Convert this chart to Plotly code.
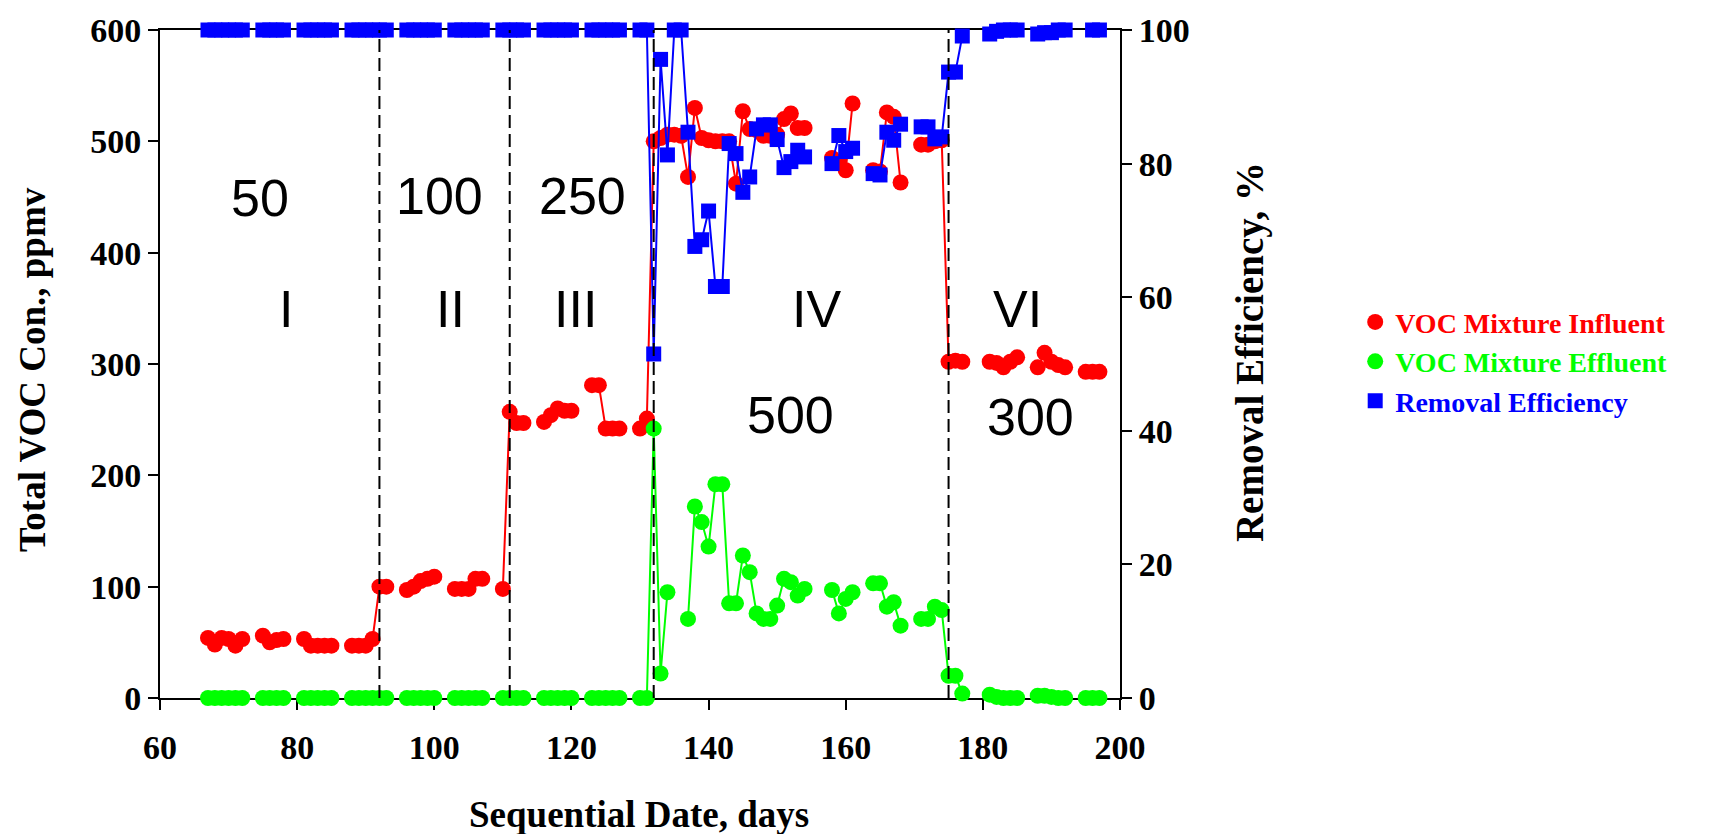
import plotly.graph_objects as go

# Sampling days (None rows break the connecting lines between sampling runs)
days = [
    67, 68, 69, 70, 71, 72, 73,
    75, 76, 77, 78, 79,
    81, 82, 83, 84, 85, 86,
    88, 89, 90, 91, 92, 93, 94,
    96, 97, 98, 99, 100, 101,
    103, 104, 105, 106, 107, 108,
    110, 111, 112, 113, 114,
    116, 117, 118, 119, 120, 121,
    123, 124, 125, 126, 127, 128,
    130, 131, 132, 133, 134, 135, 136, 137, 138, 139, 140, 141, 142,
    143, 144, 145, 146, 147, 148, 149, 150, 151, 152, 153, 154, 155,
    158, 159, 160, 161, 162,
    164, 165, 166, 167, 168, 169,
    171, 172, 173, 174, 175, 176, 177, 178,
    181, 182, 183, 184, 185, 186,
    188, 189, 190, 191, 192, 193,
    195, 196, 197,
]

influent = [
    54, 48, 54, 53, 47, 53, None,
    56, 50, 52, 53, None,
    53, 47, 47, 47, 47, None,
    47, 47, 47, 53, 100, 100, None,
    97, 100, 105, 107, 109, None,
    98, 98, 98, 107, 107, None,
    98, 257, 247, 247, None,
    248, 254, 260, 258, 258, None,
    281, 281, 242, 242, 242, None,
    242, 251, 500, 503, 506, 506, 505, 468, 530, 503, 501, 500, 500,
    500, 462, 527, 511, 510, 505, 505, 506, 520, 525, 512, 512, None,
    485, 481, 474, 534, None,
    474, 473, 526, 522, 463, None,
    497, 497, 500, 501, 302, 303, 302, None,
    302, 301, 297, 302, 306, None,
    297, 310, 302, 299, 297, None,
    293, 293, 293,
]

effluent = [
    0, 0, 0, 0, 0, 0, None,
    0, 0, 0, 0, None,
    0, 0, 0, 0, 0, None,
    0, 0, 0, 0, 0, 0, None,
    0, 0, 0, 0, 0, None,
    0, 0, 0, 0, 0, None,
    0, 0, 0, 0, None,
    0, 0, 0, 0, 0, None,
    0, 0, 0, 0, 0, None,
    0, 0, 242, 22, 95, None, None, 71, 172, 158, 136, 192, 192,
    85, 85, 128, 113, 76, 71, 71, 83, 107, 104, 92, 98, None,
    97, 76, 89, 95, None,
    103, 103, 82, 86, 65, None,
    71, 71, 82, 79, 20, 20, 4, None,
    3, 1, 0, 0, 0, None,
    2, 2, 1, 0, 0, None,
    0, 0, 0,
]

removal = [
    100, 100, 100, 100, 100, 100, None,
    100, 100, 100, 100, None,
    100, 100, 100, 100, 100, None,
    100, 100, 100, 100, 100, 100, None,
    100, 100, 100, 100, 100, None,
    100, 100, 100, 100, 100, None,
    100, 100, 100, 100, None,
    100, 100, 100, 100, 100, None,
    100, 100, 100, 100, 100, None,
    100, 100, 51.5, 95.6, 81.3, 100, 100, 84.7, 67.6, 68.6, 72.9, 61.6, 61.6,
    83.0, 81.5, 75.7, 78.0, 85.2, 85.8, 85.8, 83.6, 79.4, 80.3, 82.0, 81.0, None,
    80.0, 84.2, 81.8, 82.3, None,
    78.5, 78.3, 84.7, 83.5, 85.9, None,
    85.5, 85.5, 83.7, 84.0, 93.7, 93.7, 99.1, None,
    99.4, 99.8, 100, 100, 100, None,
    99.4, 99.6, 99.6, 100, 100, None,
    None, 100, 100,
]

# Phase boundaries (days) and in-plot phase / concentration labels
phase_bounds = [92, 111, 132, 175]
conc_labels = ["50", "100", "250", "500", "300"]
conc_x = [74.6, 100.7, 121.6, 152.0, 187.0]
conc_y = [449, 451, 451, 254, 252]
phase_labels = ["I", "II", "III", "IV", "VI"]
phase_x = [78.4, 102.4, 120.6, 155.7, 185.1]
phase_y = [349, 349, 349, 349, 349]

RED, GREEN, BLUE = "#FF0000", "#00FF00", "#0000FF"
SERIF = "Liberation Serif"
SANS = "Liberation Sans"

fig = go.Figure()

fig.add_trace(go.Scatter(
    x=days, y=influent, mode="lines+markers", showlegend=False,
    line=dict(color=RED, width=2), cliponaxis=False,
    marker=dict(symbol="circle", size=16, color=RED),
))
fig.add_trace(go.Scatter(
    x=days, y=effluent, mode="lines+markers", showlegend=False,
    line=dict(color=GREEN, width=2), cliponaxis=False,
    marker=dict(symbol="circle", size=16, color=GREEN),
))
fig.add_trace(go.Scatter(
    x=days, y=removal, mode="lines+markers", showlegend=False, yaxis="y2",
    line=dict(color=BLUE, width=2), cliponaxis=False,
    marker=dict(symbol="square", size=15, color=BLUE),
))

# Legend entries (marker only)
for name, color, sym, sz in [
    ("VOC Mixture Influent", RED, "circle", 16),
    ("VOC Mixture Effluent", GREEN, "circle", 16),
    ("Removal Efficiency", BLUE, "square", 15),
]:
    fig.add_trace(go.Scatter(
        x=[None], y=[None], mode="markers",
        name=f"<span style='color:{color}'>{name}</span>",
        marker=dict(symbol=sym, size=sz, color=color),
    ))

shapes = [
    dict(type="line", xref="x", yref="paper", x0=b, x1=b, y0=0, y1=1,
         line=dict(color="black", width=2, dash="13px,6px"), layer="above")
    for b in phase_bounds
]

annotations = []
for t, x, y in zip(conc_labels, conc_x, conc_y):
    annotations.append(dict(x=x, y=y, xref="x", yref="y", text=t, showarrow=False,
                            font=dict(family=SANS, size=52, color="black")))
for t, x, y in zip(phase_labels, phase_x, phase_y):
    annotations.append(dict(x=x, y=y, xref="x", yref="y", text=t, showarrow=False,
                            font=dict(family=SANS, size=52, color="black")))

# Axis titles
title_font = dict(family=SERIF, size=37, color="black", weight="bold")
annotations += [
    dict(text="Sequential Date, days", xref="paper", yref="paper",
         x=(639 - 160) / 960, y=(698 - 815) / 672, xanchor="center", yanchor="middle",
         showarrow=False, font=title_font),
    dict(text="Total VOC Con., ppmv", xref="paper", yref="paper", textangle=-90,
         x=(33 - 160) / 960, y=(698 - 368) / 672, xanchor="center", yanchor="middle",
         showarrow=False, font=title_font),
    dict(text="Removal Efficiency, %", xref="paper", yref="paper", textangle=-90,
         x=(1250 - 160) / 960, y=(698 - 350) / 672, xanchor="center", yanchor="middle",
         showarrow=False, font=dict(title_font, size=39)),
]

tick_font = dict(family=SERIF, size=34, color="black", weight="bold")
axis_common = dict(
    showline=True, linecolor="black", linewidth=2,
    ticks="outside", ticklen=10, tickwidth=2, tickcolor="black",
    showgrid=False, zeroline=False, tickfont=tick_font, layer="below traces",
)

fig.update_layout(
    width=1731, height=834, autosize=False,
    margin=dict(l=160, r=611, t=26, b=136),
    plot_bgcolor="white", paper_bgcolor="white",
    shapes=shapes, annotations=annotations,
    xaxis=dict(range=[60, 200], tickmode="array", tickvals=list(range(60, 201, 20)),
               mirror=True, ticklabelstandoff=8, **axis_common),
    yaxis=dict(range=[0, 600], tickmode="array", tickvals=list(range(0, 601, 100)),
               **axis_common),
    yaxis2=dict(range=[0, 100], overlaying="y", side="right", anchor="x",
                tickmode="array", tickvals=list(range(0, 101, 20)), **axis_common),
    legend=dict(
        x=1.245, y=0.60, xanchor="left", yanchor="top",
        font=dict(family=SERIF, size=28, weight="bold"),
        bgcolor="rgba(0,0,0,0)", itemwidth=30, tracegroupgap=0,
    ),
)

fig.write_html("out.html")
